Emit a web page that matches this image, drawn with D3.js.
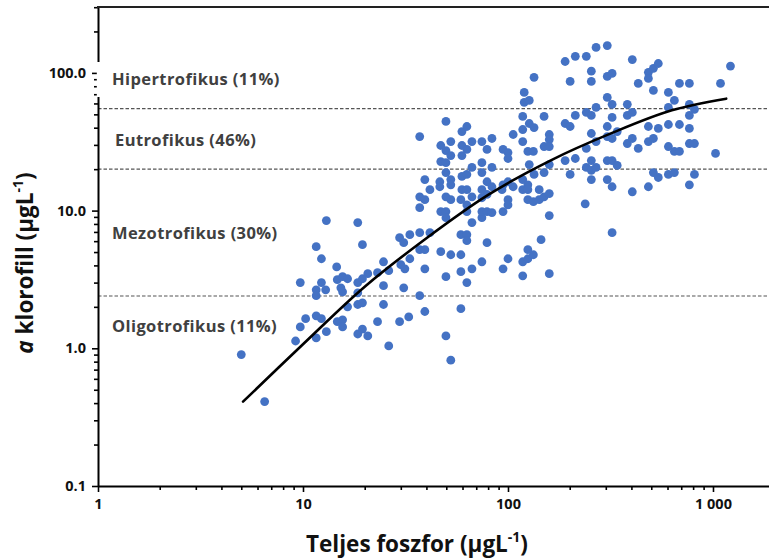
<!DOCTYPE html>
<html>
<head>
<meta charset="utf-8">
<script src="https://cdn.jsdelivr.net/npm/d3@7"></script>
<style>
  html, body { margin: 0; padding: 0; background: #fff; }
  svg { display: block; font-family: "Open Sans", "Noto Sans", sans-serif; }
</style>
</head>
<body>
<svg id="chart" width="769" height="558"></svg>
<script>
// Total phosphorus (µg/L) and chlorophyll-a (µg/L) for each sampled lake
const phosphorus = [
  5.0, 6.5, 9.2, 9.7, 9.7, 10.3, 11.6, 12.3, 11.6, 13.0,
  14.7, 15.6, 15.6, 16.5, 18.5, 19.5, 18.5, 19.5, 20.7, 23.1,
  24.7, 26.2, 29.6, 32.8, 39.3, 49.8, 52.6, 58.9, 11.6, 12.9,
  11.6, 12.3, 14.7, 15.6, 16.5, 15.3, 15.6, 14.6, 18.5, 19.5,
  20.7, 18.5, 23.1, 24.7, 26.2, 24.7, 30.0, 31.4, 31.0, 33.2,
  11.6, 12.3, 13.0, 18.5, 19.5, 29.6, 31.0, 33.2, 37.1, 41.6,
  37.1, 39.3, 39.3, 37.1, 47.0, 52.6, 49.8, 58.9, 58.9, 63.0,
  66.7, 58.9, 63.0, 63.0, 66.7, 74.6, 79.0, 74.6, 94.6, 100,
  118, 118, 125, 125, 133, 145, 159, 322, 37.1, 37.1,
  39.3, 41.6, 39.3, 47.0, 49.8, 49.8, 52.6, 49.8, 58.9, 63.0,
  63.0, 66.7, 46.5, 46.5, 52.6, 52.6, 59.6, 63.0, 74.6, 79.0,
  83.5, 79.0, 74.6, 93.5, 94.6, 100, 106, 100, 118, 125,
  118, 125, 142, 142, 74.6, 79.0, 83.5, 94.6, 100, 125,
  133, 150, 159, 159, 238, 37.1, 49.8, 59.6, 63.0, 52.6,
  47.0, 49.8, 52.6, 59.6, 63.0, 59.6, 66.7, 74.6, 79.0, 83.5,
  47.0, 49.8, 74.6, 83.5, 66.7, 49.8, 59.6, 63.0, 74.6, 94.6,
  100, 100, 106, 118, 118, 127, 134, 118, 125, 133,
  127, 134, 150, 159, 134, 120, 120, 127, 150, 190,
  213, 241, 269, 305, 201, 255, 255, 305, 322, 404,
  432, 484, 484, 512, 541, 512, 606, 648, 686, 767,
  1088, 1217, 305, 322, 269, 241, 255, 213, 322, 305,
  382, 382, 404, 606, 767, 812, 767, 190, 201, 484,
  541, 606, 686, 767, 159, 159, 150, 159, 255, 305,
  322, 341, 269, 382, 404, 432, 484, 512, 606, 648,
  686, 812, 767, 1029, 241, 190, 213, 255, 305, 322,
  341, 241, 255, 269, 201, 255, 305, 322, 404, 484,
  512, 541, 606, 648, 812, 767
];
const chlorophyll = [
  0.90, 0.41, 1.13, 1.43, 3.0, 1.64, 1.72, 1.64, 1.19, 1.32,
  1.56, 1.61, 1.43, 2.0, 2.08, 2.14, 1.27, 1.38, 1.23, 1.56,
  2.08, 1.04, 1.56, 1.69, 1.85, 1.23, 0.82, 1.94, 2.66, 2.66,
  2.41, 3.0, 3.15, 3.31, 3.2, 2.75, 2.57, 3.9, 3.0, 3.2,
  3.48, 2.53, 3.54, 4.25, 3.66, 2.85, 4.05, 3.78, 2.75, 4.47,
  5.47, 4.47, 8.46, 8.18, 5.66, 6.36, 5.85, 6.69, 6.91, 6.91,
  5.2, 5.2, 3.78, 2.41, 5.03, 4.78, 3.31, 4.78, 3.6, 3.0,
  3.78, 6.69, 6.69, 6.05, 8.18, 8.89, 5.85, 4.25, 3.78, 4.47,
  3.36, 4.25, 4.47, 5.2, 4.78, 6.15, 3.48, 6.91, 10.5, 12.6,
  12.0, 14.2, 16.8, 9.83, 9.83, 8.89, 12.0, 12.6, 12.0, 11.0,
  9.83, 12.6, 16.2, 14.9, 16.8, 15.4, 14.2, 14.2, 14.2, 16.2,
  14.9, 13.1, 12.4, 14.2, 15.4, 16.2, 14.9, 12.0, 16.8, 15.4,
  14.2, 14.2, 14.2, 12.0, 9.83, 9.83, 9.67, 9.83, 11.0, 12.0,
  11.6, 12.6, 13.3, 9.2, 11.2, 34.5, 44.4, 37.5, 40.8, 31.7,
  29.7, 27.3, 25.1, 29.7, 27.8, 25.1, 31.7, 31.7, 27.8, 33.4,
  22.7, 22.3, 22.3, 20.6, 20.6, 18.9, 17.7, 18.3, 18.9, 27.8,
  26.4, 23.9, 35.7, 48.3, 38.8, 42.9, 40.1, 31.7, 26.9, 26.9,
  21.6, 18.3, 18.9, 21.6, 92.8, 72.2, 61.1, 63.1, 48.3, 121,
  132, 132, 153, 158, 86.7, 103, 86.7, 94.3, 99.2, 125,
  83.9, 101, 91.2, 108, 117, 74.6, 72.2, 63.1, 83.9, 83.9,
  83.9, 112, 66.4, 59.1, 56.1, 51.6, 49.1, 49.1, 47.5, 40.8,
  59.1, 49.1, 51.6, 56.1, 59.1, 54.3, 49.1, 42.9, 40.8, 40.8,
  39.5, 42.2, 42.2, 39.5, 35.7, 32.8, 29.2, 29.2, 36.3, 34.5,
  33.4, 37.5, 31.7, 30.7, 33.4, 28.3, 31.7, 33.4, 29.2, 26.9,
  26.9, 30.7, 30.7, 26.0, 28.3, 23.1, 23.9, 23.1, 23.1, 23.1,
  21.3, 20.6, 19.6, 20.6, 18.3, 16.8, 16.8, 14.9, 13.7, 14.9,
  18.9, 17.4, 18.3, 18.9, 18.3, 15.4
];

// Fitted relationship (points along the regression curve)
const fitPhosphorus  = [5.1, 10, 20, 40, 80, 160, 320, 630, 1160];
const fitChlorophyll = [0.41, 1.07, 2.8, 6.3, 13.0, 23.0, 36.5, 53.5, 65];

// Trophic class boundaries (chlorophyll-a, µg/L) and class labels
const boundaries = [2.4, 20, 55];
const classLabels = ["Hipertrofikus (11%)", "Eutrofikus (46%)", "Mezotrofikus (30%)", "Oligotrofikus (11%)"];

// Axis ticks
const xTicks = [1, 10, 100, 1000];
const yTicks = [0.1, 1, 10, 100];

const svg = d3.select("#chart");
const chartW = 769;
const plotLeft = 98, plotBottom = 486, plotTop = 7;

const x = d3.scaleLog().domain([1, 1876]).range([plotLeft, chartW]);
const y = d3.scaleLog().domain([0.1, 301]).range([plotBottom, plotTop]);

const xMinor = [1, 10, 100].flatMap(d => d3.range(2, 10).map(k => k * d));
const yMinor = [0.1, 1, 10, 100].flatMap(d => d3.range(2, 10).map(k => k * d)).filter(v => v <= 301);

// Class boundary lines
svg.append("g")
  .selectAll("line")
  .data(boundaries)
  .join("line")
  .attr("x1", plotLeft).attr("x2", chartW)
  .attr("y1", d => y(d)).attr("y2", d => y(d))
  .attr("stroke", "#555").attr("stroke-width", 1.1)
  .attr("stroke-dasharray", "3.5,2");

// Sample points
svg.append("g")
  .selectAll("circle")
  .data(d3.range(phosphorus.length))
  .join("circle")
  .attr("cx", i => x(phosphorus[i]))
  .attr("cy", i => y(chlorophyll[i]))
  .attr("r", 4.4)
  .attr("fill", "#4472c4");

// Regression curve
const fit = fitPhosphorus.map((p, i) => [p, fitChlorophyll[i]]);
svg.append("path")
  .datum(fit)
  .attr("fill", "none")
  .attr("stroke", "#000")
  .attr("stroke-width", 2.6)
  .attr("stroke-linecap", "round")
  .attr("d", d3.line().x(d => x(d[0])).y(d => y(d[1])).curve(d3.curveCatmullRom));

// Axes
const huLocale = d3.formatLocale({ decimal: ",", thousands: "\u00a0", grouping: [3], currency: ["", ""] });
const xFormat = huLocale.format(",d");

const styleAxis = g => {
  g.select(".domain").attr("stroke", "#000").attr("stroke-width", 2);
  g.selectAll(".tick line").attr("stroke", "#000").attr("stroke-width", 1.6);
  g.selectAll(".tick text")
    .attr("fill", "#111")
    .style("font-size", "14.5px")
    .style("font-weight", "700")
    .style("font-family", '"Open Sans", sans-serif');
};

svg.append("g")
  .attr("transform", `translate(0,${plotBottom})`)
  .call(d3.axisBottom(x).tickValues(xMinor).tickSize(4).tickFormat(""))
  .call(g => g.select(".domain").remove())
  .call(g => g.selectAll(".tick line").attr("stroke", "#000").attr("stroke-width", 1.6));

svg.append("g")
  .attr("transform", `translate(0,${plotBottom})`)
  .call(d3.axisBottom(x).tickValues(xTicks).tickFormat(xFormat).tickSize(6).tickSizeOuter(0).tickPadding(7))
  .call(styleAxis);

svg.append("g")
  .attr("transform", `translate(${plotLeft},0)`)
  .call(d3.axisLeft(y).tickValues(yMinor).tickSize(4).tickFormat(""))
  .call(g => g.select(".domain").remove())
  .call(g => g.selectAll(".tick line").attr("stroke", "#000").attr("stroke-width", 1.6));

svg.append("g")
  .attr("transform", `translate(${plotLeft},0)`)
  .call(d3.axisLeft(y).tickValues(yTicks).tickFormat(d3.format(".1f")).tickSize(6).tickSizeOuter(0).tickPadding(6))
  .call(styleAxis);

// Top frame line
svg.append("line")
  .attr("x1", plotLeft - 1).attr("x2", chartW)
  .attr("y1", plotTop).attr("y2", plotTop)
  .attr("stroke", "#222").attr("stroke-width", 2);

// Class labels (the top one sits in an opaque text box)
svg.append("rect")
  .attr("x", 96.8).attr("y", 62).attr("width", 196).attr("height", 35)
  .attr("fill", "#fff");

const labelPos = [[112, 85], [115, 146], [112, 239], [112, 332]];
svg.append("g")
  .selectAll("text")
  .data(classLabels)
  .join("text")
  .attr("x", (d, i) => labelPos[i][0])
  .attr("y", (d, i) => labelPos[i][1])
  .attr("fill", "#404040")
  .style("font-size", "16.5px")
  .style("letter-spacing", "0.4px")
  .style("font-weight", "700")
  .text(d => d);

// Axis titles
const xTitle = svg.append("text")
  .attr("x", 417).attr("y", 552)
  .attr("text-anchor", "middle")
  .attr("fill", "#111")
  .style("font-size", "22.5px")
  .style("font-weight", "700");
xTitle.append("tspan").text("Teljes foszfor (µgL");
xTitle.append("tspan").attr("dy", -10).style("font-size", "14px").text("-1");
xTitle.append("tspan").attr("dy", 10).text(")");

const yTitle = svg.append("text")
  .attr("transform", "translate(33,263) rotate(-90)")
  .attr("text-anchor", "middle")
  .attr("fill", "#111")
  .style("font-size", "22.5px")
  .style("font-weight", "700");
yTitle.append("tspan").style("font-style", "italic").text("a");
yTitle.append("tspan").text(" klorofill (µgL");
yTitle.append("tspan").attr("dy", -10).style("font-size", "14px").text("-1");
yTitle.append("tspan").attr("dy", 10).text(")");
</script>
</body>
</html>
